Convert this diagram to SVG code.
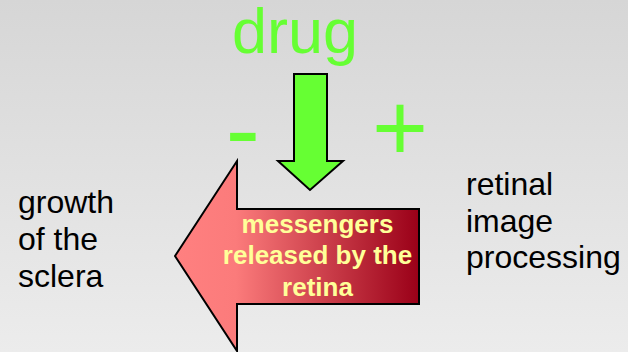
<svg xmlns="http://www.w3.org/2000/svg" width="628" height="352" viewBox="0 0 628 352">
  <defs>
    <linearGradient id="bg" x1="0" y1="0" x2="0" y2="1">
      <stop offset="0" stop-color="#d6d6d6"/>
      <stop offset="1" stop-color="#ececec"/>
    </linearGradient>
    <linearGradient id="red" gradientUnits="userSpaceOnUse" x1="175" y1="0" x2="419" y2="0">
      <stop offset="0" stop-color="#ff8080"/>
      <stop offset="0.25" stop-color="#fb7b7b"/>
      <stop offset="1" stop-color="#9a0018"/>
    </linearGradient>
    <style>
      .lbl { font-family: "Liberation Sans", Arial, sans-serif; font-size: 32px; fill: #000000; }
      .green { font-family: "Liberation Sans", Arial, sans-serif; fill: #66ff33; }
      .msg { font-family: "Liberation Sans", Arial, sans-serif; font-size: 26px; font-weight: bold; fill: #ffff99; text-anchor: middle; }
      .arrow { stroke: #000000; stroke-width: 2; stroke-linejoin: miter; }
    </style>
  </defs>
  <rect x="0" y="0" width="628" height="352" fill="url(#bg)"/>

  <g id="drug">
    <text class="green" x="232" y="53" font-size="63">drug</text>
  </g>
  <g id="minus">
    <text class="green" x="225.5" y="164.5" font-size="104">-</text>
  </g>
  <g id="plus">
    <text class="green" x="372" y="161" font-size="96">+</text>
  </g>

  <g id="connectors">
    <polygon id="drug-arrow" class="arrow" fill="#66ff33" points="294,74 327,74 327,161 343,161 310,190 278,161 294,161"/>
  </g>

  <g id="messengers">
    <polygon class="arrow" fill="url(#red)" points="175,256 237,161 237,209 419,209 419,304 237,304 237,351"/>
    <text class="msg" x="317.5" y="232.5">messengers</text>
    <text class="msg" x="317.5" y="264">released by the</text>
    <text class="msg" x="317.5" y="296">retina</text>
  </g>

  <g id="sclera">
    <text class="lbl" x="18" y="213">growth</text>
    <text class="lbl" x="18" y="250">of the</text>
    <text class="lbl" x="18" y="287">sclera</text>
  </g>

  <g id="retinal">
    <text class="lbl" x="466" y="195">retinal</text>
    <text class="lbl" x="466" y="231.5">image</text>
    <text class="lbl" x="466" y="268">processing</text>
  </g>
</svg>
